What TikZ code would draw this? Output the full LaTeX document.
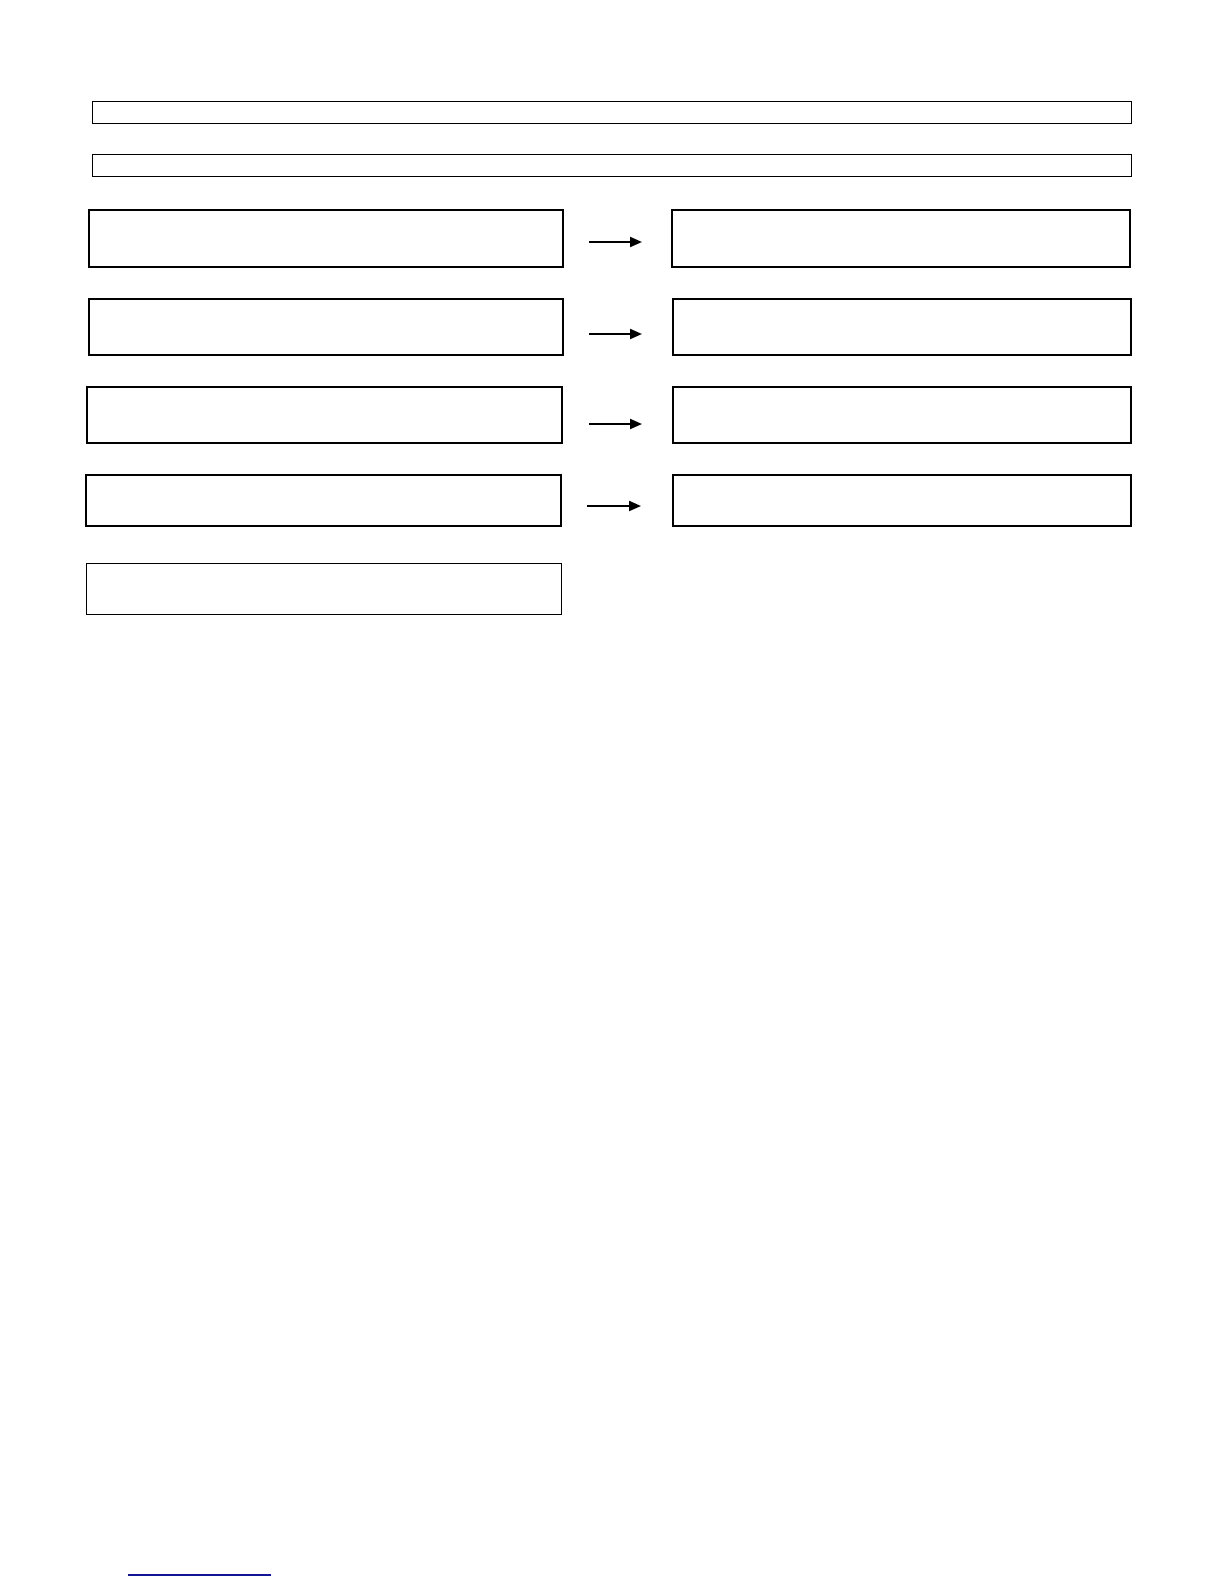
\documentclass[tikz,border=0pt]{standalone}
\usetikzlibrary{arrows.meta}
\definecolor{linkblue}{RGB}{20,20,150}
\begin{document}
\begin{tikzpicture}[x=1pt,y=-1pt,
  bar/.style={draw, line width=1pt, inner sep=0pt, outer sep=0pt, anchor=north west},
  heavybox/.style={draw, line width=2pt, inner sep=0pt, outer sep=0pt, anchor=north west},
  midbox/.style={draw, line width=1.5pt, inner sep=0pt, outer sep=0pt, anchor=north west},
  arr/.style={line width=2pt, -{Triangle[length=12pt,width=10pt]}}]
\useasboundingbox[fill=white] (0,0) rectangle (1224,1584);
% top bars
\node[bar, minimum width=1039pt, minimum height=22pt] (b1) at (92,102) {};
\node[bar, minimum width=1039pt, minimum height=22pt] (b2) at (92,154) {};
% left column
\node[heavybox, minimum width=474pt, minimum height=57pt] (l1) at (89,210) {};
\node[heavybox, minimum width=474pt, minimum height=56pt] (l2) at (89,299) {};
\node[midbox, minimum width=475pt, minimum height=56pt] (l3) at (87,387) {};
\node[midbox, minimum width=475pt, minimum height=51pt] (l4) at (86,475) {};
\node[bar, minimum width=475pt, minimum height=51pt] (l5) at (86,563) {};
% right column
\node[heavybox, minimum width=458pt, minimum height=57pt] (r1) at (672,210) {};
\node[midbox, minimum width=458pt, minimum height=56pt] (r2) at (673,299) {};
\node[midbox, minimum width=458pt, minimum height=56pt] (r3) at (673,387) {};
\node[midbox, minimum width=458pt, minimum height=51pt] (r4) at (673,475) {};
% arrow end points
\coordinate (a1s) at (589,242); \coordinate (a1e) at (642,242);
\coordinate (a2s) at (589,334); \coordinate (a2e) at (642,334);
\coordinate (a3s) at (589,424); \coordinate (a3e) at (642,424);
\coordinate (a4s) at (587,506); \coordinate (a4e) at (641,506);
\draw[arr] (a1s) -- (a1e);
\draw[arr] (a2s) -- (a2e);
\draw[arr] (a3s) -- (a3e);
\draw[arr] (a4s) -- (a4e);
% blue underline at bottom
\coordinate (u1) at (128,1575); \coordinate (u2) at (271,1575);
\draw[linkblue, line width=1.5pt] (u1) -- (u2);
\end{tikzpicture}
\end{document}
